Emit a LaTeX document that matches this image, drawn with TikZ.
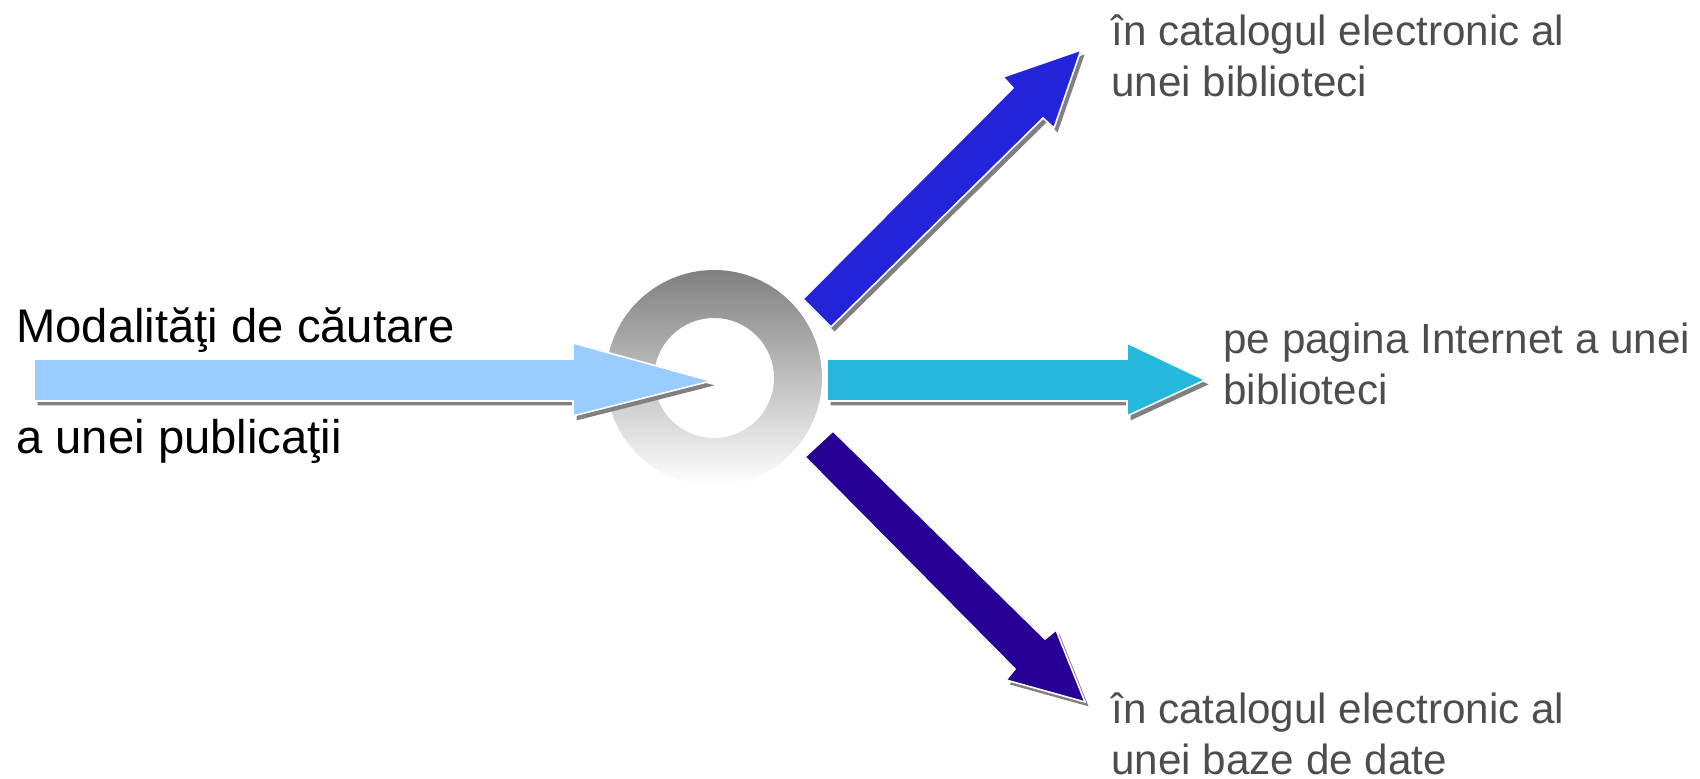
\documentclass[tikz,border=0pt]{standalone}
\usepackage{fontspec}
\setmainfont{Liberation Sans}
\usetikzlibrary{shadows}

\definecolor{skyin}{HTML}{99CCFF}
\definecolor{cyanout}{HTML}{26B8DC}
\definecolor{blueout}{HTML}{2323DA}
\definecolor{indigoout}{HTML}{270096}
\definecolor{textgray}{HTML}{4D4D4D}

\tikzset{
	ArrowStyle/.style = {fill=#1, draw=white, line width=0.8pt, line join=miter,
		drop shadow={shadow xshift=1.8pt, shadow yshift=-2.2pt, fill=black!50, opacity=1}},
	SourceText/.style = {anchor=base west, inner sep=0pt, text=black,
		font=\fontsize{23.6}{28}\selectfont},
	TargetText/.style = {anchor=base west, inner sep=0pt, align=left, text=textgray,
		font=\fontsize{21.1}{25.5}\selectfont}
}

\begin{document}
\begin{tikzpicture}[x=0.5pt, y=-0.5pt]
	\useasboundingbox (0,0) rectangle (1700,779);
	% ring in the middle
	\coordinate (hub) at (714,378);
	\shade[top color=black!50, bottom color=white, even odd rule]
		(hub) circle[radius=108] (hub) circle[radius=60];
	% incoming arrow
	\path[ArrowStyle=skyin] (34,359) -- (573,359) -- (573,343) -- (711,381)
		-- (573,416) -- (573,401) -- (34,401) -- cycle;
	% outgoing arrows
	\path[ArrowStyle=blueout] (803,299) -- (1013,88) -- (1003,77) -- (1081,50)
		-- (1054,128) -- (1043,118) -- (831,327) -- cycle;
	\path[ArrowStyle=cyanout] (827,359) -- (1127,359) -- (1127,343) -- (1205,380)
		-- (1127,416) -- (1127,401) -- (827,401) -- cycle;
	\path[ArrowStyle=indigoout] (805,457) -- (1015,669) -- (1006,680) -- (1085,702)
		-- (1056,630) -- (1045,639) -- (833,431) -- cycle;
	% texts (base = last line)
	\node[SourceText] (srcTop) at (16,343) {Modalităţi de căutare};
	\node[SourceText] (srcBottom) at (16,454) {a unei publicaţii};
	\node[TargetText] (tgtCatalog) at (1111,97) {în catalogul electronic al\\unei biblioteci};
	\node[TargetText] (tgtWeb) at (1223,405) {pe pagina Internet a unei\\biblioteci};
	\node[TargetText] (tgtBase) at (1111,774) {în catalogul electronic al\\unei baze de date};
\end{tikzpicture}
\end{document}
